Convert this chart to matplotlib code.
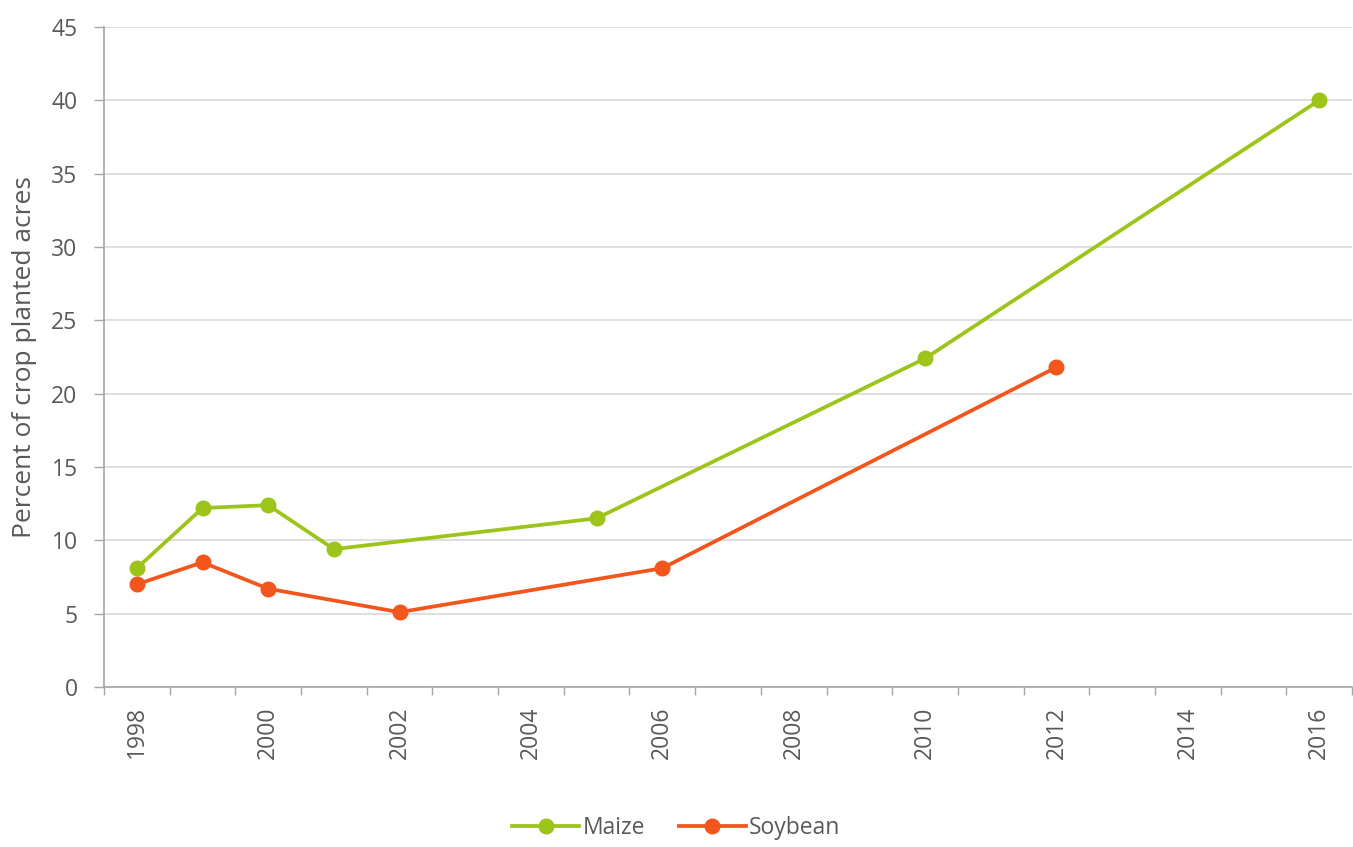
# Share of maize and soybean planted acres, 1998-2016

import numpy as np
import matplotlib.pyplot as plt

years = list(range(1998, 2017))
tick_labels = [str(y) if y % 2 == 0 else '' for y in years]

maize_years = [1998, 1999, 2000, 2001, 2005, 2010, 2016]
maize_values = [8.1, 12.2, 12.4, 9.4, 11.5, 22.4, 40.0]

soy_years = [1998, 1999, 2000, 2002, 2006, 2012]
soy_values = [7.0, 8.5, 6.7, 5.1, 8.1, 21.8]

MAIZE_COLOR = '#9dc41a'
SOY_COLOR = '#f2561d'
TEXT_COLOR = '#595959'
GRID_COLOR = '#d9d9d9'

plt.rcParams['font.family'] = ['Open Sans', 'DejaVu Sans']


def to_pos(year_list):
    return [years.index(y) for y in year_list]


def main():
    fig = plt.figure(figsize=(13.53, 8.47), dpi=100)
    ax = fig.add_axes([104 / 1353, 1 - 687 / 847, 1248 / 1353, 660 / 847])

    ax.plot(to_pos(maize_years), maize_values, color=MAIZE_COLOR, lw=2.7,
            marker='o', ms=10.5, label='Maize', zorder=3)
    ax.plot(to_pos(soy_years), soy_values, color=SOY_COLOR, lw=2.7,
            marker='o', ms=10.5, label='Soybean', zorder=3)

    ax.set_xlim(-0.5, len(years) - 0.5)
    ax.set_ylim(0, 45)
    ax.set_yticks(np.arange(0, 46, 5))
    ax.yaxis.grid(True, color=GRID_COLOR, lw=1.2)
    ax.set_axisbelow(True)

    # category boundaries get the tick marks, labels sit in the middle
    ax.set_xticks(np.arange(-0.5, len(years), 1))
    ax.set_xticklabels([])
    ax.set_xticks(range(len(years)), minor=True)
    ax.set_xticklabels(tick_labels, minor=True, rotation=90,
                       fontsize=16.5, color=TEXT_COLOR)
    ax.tick_params(axis='x', which='major', length=6, color='#a6a6a6', width=1)
    ax.tick_params(axis='x', which='minor', length=0, pad=14)
    ax.tick_params(axis='y', length=7, color='#a6a6a6', width=1,
                   labelsize=16.5, labelcolor=TEXT_COLOR, pad=12)

    for side in ['top', 'right']:
        ax.spines[side].set_visible(False)
    ax.spines['left'].set_color('#a6a6a6')
    ax.spines['bottom'].set_color('#a6a6a6')
    ax.spines['left'].set_linewidth(1.2)
    ax.spines['bottom'].set_linewidth(1.2)

    ax.set_ylabel('Percent of crop planted acres', fontsize=19,
                  color=TEXT_COLOR, labelpad=10)

    fig.legend(loc='center', bbox_to_anchor=(0.5, 1 - 828 / 847), ncol=2,
               frameon=False, fontsize=16.5, labelcolor=TEXT_COLOR,
               handlelength=2.9, handletextpad=0.15, columnspacing=1.5)

    fig.savefig('out.png', dpi=100)


if __name__ == '__main__':
    main()
